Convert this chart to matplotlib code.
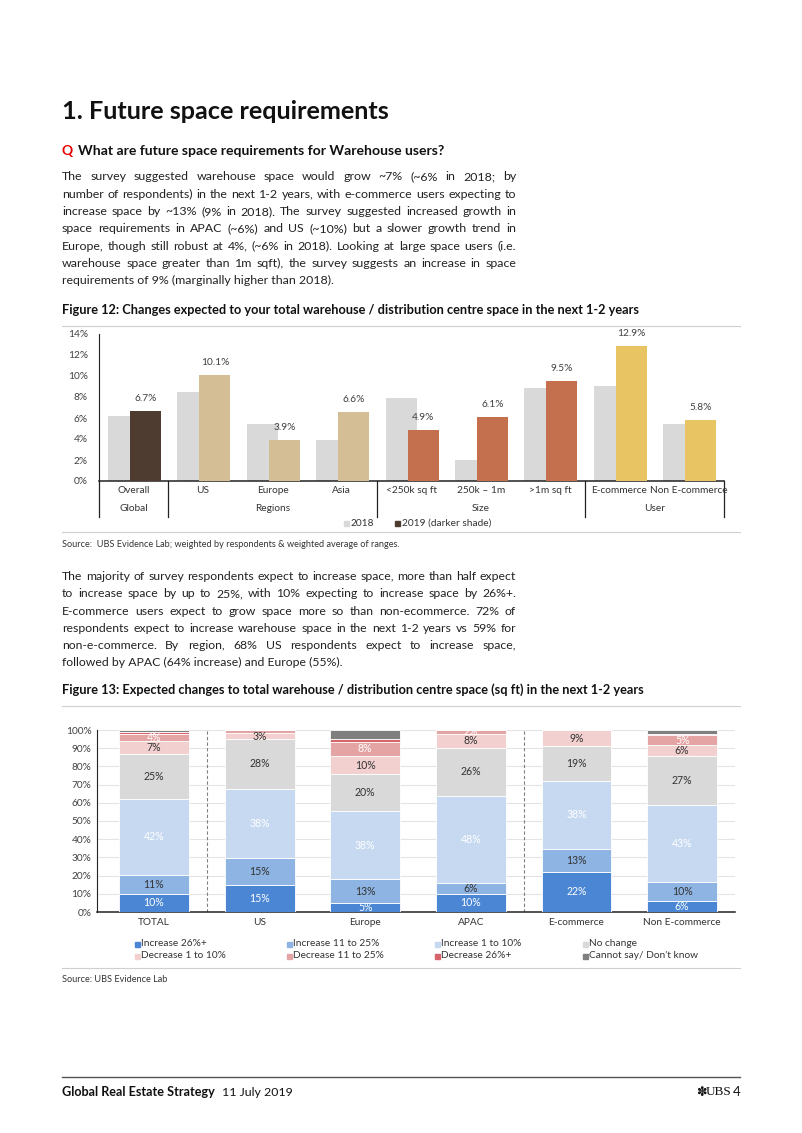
import numpy as np
import matplotlib.pyplot as plt
from matplotlib.patches import Rectangle
from matplotlib.lines import Line2D

plt.rcParams['font.family'] = ['Lato', 'DejaVu Sans']

W, H = 802, 1133

# ---- figure 12 data
cats1 = ["Overall", "US", "Europe", "Asia", "<250k sq ft", "250k \u2013 1m", ">1m sq ft",
         "E-commerce", "Non E-commerce"]
groups1 = ["Global", "Regions", "Size", "User"]
group_pos = [0, 2, 5, 7.5]
v2018 = [6.2, 8.5, 5.4, 3.9, 7.9, 2.0, 8.9, 9.0, 5.4]
v2019 = [6.7, 10.1, 3.9, 6.6, 4.9, 6.1, 9.5, 12.9, 5.8]
c2019 = ["#4e3c30", "#d4be96", "#d4be96", "#d4be96", "#c46f4e", "#c46f4e", "#c46f4e",
         "#e8c463", "#e8c463"]

# ---- figure 13 data
cats2 = ["TOTAL", "US", "Europe", "APAC", "E-commerce", "Non E-commerce"]
series2 = ["Increase 26%+", "Increase 11 to 25%", "Increase 1 to 10%", "No change",
           "Decrease 1 to 10%", "Decrease 11 to 25%", "Decrease 26%+", "Cannot say/ Don't know"]
inc26 = [10, 14.7, 5, 10, 22, 6]
inc11 = [10.6, 14.8, 13, 6, 12.6, 10.4]
inc1 = [41.6, 38, 37.6, 48, 37.6, 42.6]
nochg = [24.6, 27.7, 20, 26, 18.8, 26.6]
dec1 = [7, 3, 10, 8, 9, 6]
dec11 = [4, 1.8, 8, 2, 0, 5.4]
dec26 = [1.2, 0, 1.6, 0, 0, 1]
cannot = [1, 0, 4.8, 0, 0, 2]
cols2 = ["#4a86d3", "#8eb4e3", "#c6d9f1", "#d9d9d9", "#f3d0d0", "#e4a4a4", "#d7646a", "#7f7f7f"]
lblcol2 = ["white", "#333333", "white", "#333333", "#333333", "white", "white", "white"]

para1 = [
    "The survey suggested warehouse space would grow ~7% (~6% in 2018; by",
    "number of respondents) in the next 1-2 years, with e-commerce users expecting to",
    "increase space by ~13% (9% in 2018). The survey suggested increased growth in",
    "space requirements in APAC (~6%) and US (~10%) but a slower growth trend in",
    "Europe, though still robust at 4%, (~6% in 2018). Looking at large space users (i.e.",
    "warehouse space greater than 1m sqft), the survey suggests an increase in space",
    "requirements of 9% (marginally higher than 2018).",
]
para2 = [
    "The majority of survey respondents expect to increase space, more than half expect",
    "to increase space by up to 25%, with 10% expecting to increase space by 26%+.",
    "E-commerce users expect to grow space more so than non-ecommerce. 72% of",
    "respondents expect to increase warehouse space in the next 1-2 years vs 59% for",
    "non-e-commerce. By region, 68% US respondents expect to increase space,",
    "followed by APAC (64% increase) and Europe (55%).",
]

fig = plt.figure(figsize=(W / 100, H / 100), dpi=100)
rend = fig.canvas.get_renderer()
TXT = "#222222"


def fx(x):
    return x / W


def fy(y):
    return 1 - y / H


def hline(y, x0=62, x1=740, c="#cfcfcf", lw=0.8):
    fig.add_artist(Line2D([fx(x0), fx(x1)], [fy(y), fy(y)], color=c, lw=lw))


def fit(x, y, s, x_end, size, **kw):
    # place text starting at x and scale its size so it ends near x_end
    t = fig.text(fx(x), fy(y), s, fontsize=size, va="center", **kw)
    w = t.get_window_extent(rend).width
    t.set_fontsize(size * (x_end - x) / w)
    return t


def justify(lines, y0, step, x0=62, x1=516, size=9.2):
    probe = fig.text(0, 0, "", fontsize=size)
    maxw = 0
    for l in lines:
        probe.set_text(l)
        maxw = max(maxw, probe.get_window_extent(rend).width)
    probe.remove()
    if maxw > (x1 - x0) * 0.985:
        size = size * (x1 - x0) * 0.985 / maxw
    for i, line in enumerate(lines):
        y = fy(y0 + i * step)
        if i == len(lines) - 1:
            fig.text(fx(x0), y, line, fontsize=size, va="center", color=TXT)
            continue
        words = line.split()
        ts = [fig.text(0, y, w, fontsize=size, va="center", color=TXT) for w in words]
        ws = [t.get_window_extent(rend).width for t in ts]
        gap = (x1 - x0 - sum(ws)) / (len(words) - 1)
        x = x0
        for t, w in zip(ts, ws):
            t.set_x(fx(x))
            x += w + gap


# ---- page text
fit(62, 111, "1. Future space requirements", 390, 18, weight="bold", color="#111111")
fig.text(fx(62), fy(151), "Q", fontsize=10, weight="bold", va="center", color="#e60000")
fit(78, 151, "What are future space requirements for Warehouse users?", 445, 10,
    weight="bold", color="#111111")
justify(para1, 176.7, 17.35, size=10.2)

fit(62, 310, "Figure 12: Changes expected to your total warehouse / distribution "
    "centre space in the next 1-2 years", 637, 8.6, weight="bold", color="#111111")
hline(326)
hline(532)
fig.text(fx(62), fy(545), "Source:  UBS Evidence Lab; weighted by respondents & weighted "
         "average of ranges.", fontsize=6.6, va="center", color="#333333")

justify(para2, 576.7, 17.2, size=10.2)

fit(62, 690, "Figure 13: Expected changes to total warehouse / distribution "
    "centre space (sq ft) in the next 1-2 years", 643, 8.6, weight="bold", color="#111111")
hline(706)
hline(968)
fig.text(fx(62), fy(980), "Source: UBS Evidence Lab", fontsize=6.6, va="center",
         color="#333333")

# footer
hline(1077, c="#555555", lw=1.0)
fit(62, 1092, "Global Real Estate Strategy", 215, 9, weight="bold", color="#111111")
fit(222, 1092, "11 July 2019", 293, 9, color="#111111")
fig.text(fx(741), fy(1092), "4", fontsize=9.5, va="center", ha="right", color="#111111")
fig.text(fx(731), fy(1092), "UBS", fontsize=9.5, va="center", ha="right",
         family="Liberation Serif", color="#111111")
fig.text(fx(707), fy(1092), "\u273d", fontsize=9, va="center", ha="right",
         family="DejaVu Sans", color="#111111")

# ---- figure 12 chart
ax1 = fig.add_axes([fx(99), fy(481), (723.6 - 99) / W, (481 - 334) / H])
x1 = np.arange(len(cats1))
ax1.bar(x1 - 0.147, v2018, 0.447, color="#d9d9d9", zorder=2)
ax1.bar(x1 + 0.17, v2019, 0.447, color=c2019, zorder=3)
for xi, v in zip(x1, v2019):
    ax1.text(xi + 0.17, v + 0.75, f"{v:.1f}%", ha="center", va="bottom", fontsize=7.3,
             color="#404040")
ax1.set_xlim(-0.5, 8.5)
ax1.set_ylim(0, 14)
ax1.set_yticks(np.arange(0, 15, 2))
ax1.set_yticklabels([f"{t}%" for t in range(0, 15, 2)])
ax1.set_xticks([])
ax1.tick_params(axis="y", length=0, labelsize=7.3, labelcolor="#404040", pad=8)
for s in ["top", "right"]:
    ax1.spines[s].set_visible(False)
ax1.spines["left"].set_color("#222222")
ax1.spines["bottom"].set_color("#222222")
ax1.spines["bottom"].set_linewidth(1.1)
tr1 = ax1.get_xaxis_transform()
for xi, c in zip(x1, cats1):
    ax1.text(xi, -0.068, c, transform=tr1, ha="center", va="center", fontsize=7.3,
             color="#333333")
for xp, gname in zip(group_pos, groups1):
    ax1.text(xp, -0.19, gname, transform=tr1, ha="center", va="center", fontsize=7.3,
             color="#333333")
for xd in [-0.5, 0.5, 3.5, 6.5, 8.5]:
    ax1.add_line(Line2D([xd, xd], [0, -0.245], transform=tr1, color="#222222", lw=0.9,
                        clip_on=False))

# legend 12
for mx, lab, col in [(344, "2018", "#d9d9d9"), (395, "2019 (darker shade)", "#4e3c30")]:
    fig.add_artist(Rectangle((fx(mx), fy(525.5)), 5 / W, 5 / H, color=col))
    fig.text(fx(mx + 7), fy(523), lab, fontsize=7.3, va="center", color="#333333")

# ---- figure 13 chart
ax2 = fig.add_axes([fx(97), fy(912), (735 - 97) / W, (912 - 730) / H])
x2 = np.arange(len(cats2))
stack = [inc26, inc11, inc1, nochg, dec1, dec11, dec26, cannot]
bottom = np.zeros(len(cats2))
for k, (vals, col) in enumerate(zip(stack, cols2)):
    vals = np.array(vals, dtype=float)
    ax2.bar(x2, vals, 0.66, bottom=bottom, color=col, edgecolor="white", linewidth=0.6,
            zorder=3)
    if k < 6:
        for xi, b, v in zip(x2, bottom, vals):
            if v >= 2:
                ax2.text(xi, b + v / 2, f"{round(v)}%", ha="center", va="center",
                         fontsize=7.6, color=lblcol2[k], zorder=4)
    bottom += vals
ax2.set_xlim(-0.54, 5.5)
ax2.set_ylim(0, 100)
ax2.set_yticks(np.arange(0, 101, 10))
ax2.set_yticklabels([f"{t}%" for t in range(0, 101, 10)])
ax2.set_xticks([])
ax2.tick_params(axis="y", length=0, labelsize=7.3, labelcolor="#404040", pad=4)
ax2.grid(axis="y", color="#e4e4e4", lw=0.8, zorder=0)
for s in ["top", "right"]:
    ax2.spines[s].set_visible(False)
ax2.spines["left"].set_color("#222222")
ax2.spines["bottom"].set_color("#222222")
ax2.spines["bottom"].set_linewidth(1.1)
for xd in [0.5, 3.5]:
    ax2.axvline(xd, color="#808080", lw=0.8, ls=(0, (3, 2)), zorder=2)
tr2 = ax2.get_xaxis_transform()
for xi, c in zip(x2, cats2):
    ax2.text(xi, -0.06, c, transform=tr2, ha="center", va="center", fontsize=7.3,
             color="#333333")

# legend 13
leg_x = [135, 287, 435, 583]
for k, (lab, col) in enumerate(zip(series2, cols2)):
    mx = leg_x[k % 4]
    my = 944 if k < 4 else 956
    fig.add_artist(Rectangle((fx(mx), fy(my + 2.5)), 5 / W, 5 / H, color=col))
    fig.text(fx(mx + 6), fy(my), lab, fontsize=7.3, va="center", color="#333333")

fig.savefig("out.png", dpi=100)
